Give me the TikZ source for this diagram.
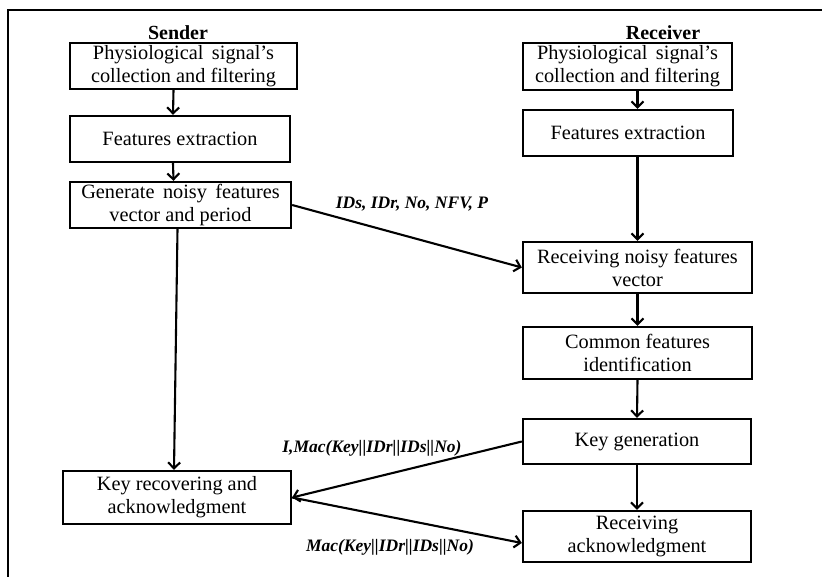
\documentclass[tikz,border=0pt]{standalone}
\usepackage{fontspec}
\setmainfont{Liberation Serif}
\usetikzlibrary{arrows.meta}

\begin{document}
\begin{tikzpicture}[x=1pt,y=-1pt,
  procbox/.style={draw,line width=2.3pt,align=center,inner sep=1pt,
    font=\fontsize{20.3}{23}\selectfont},
  sidetitle/.style={anchor=base,font=\fontsize{20}{22}\selectfont\bfseries},
  msglabel/.style={font=\fontsize{17.5}{20}\selectfont\bfseries\itshape},
  flowarrow/.style={line width=2.1pt,-{Straight Barb[length=6pt,width=12pt,line width=2.1pt]}}]

\useasboundingbox (0,0) rectangle (822,577);

% Frame
\draw[line width=2.3pt] (822,10) -- (8,10) -- (8,577);

% Sender Title
\node[sidetitle] (senderTitle) at (178,40) {Sender};

% Sender Steps
\node[procbox,minimum width=227pt,minimum height=46pt] (sCollect) at (183.5,66)
  {Physiological\, signal's\\collection and filtering};
\node[procbox,minimum width=220pt,minimum height=46pt] (sExtract) at (180,139)
  {Features extraction};
\node[procbox,minimum width=221pt,minimum height=46pt] (sGenerate) at (180.5,205)
  {Generate\, noisy\, features\\vector and period};
\node[procbox,minimum width=228pt,minimum height=53pt] (sRecover) at (177,497.5)
  {Key recovering and\\acknowledgment};

% Receiver Title
\node[sidetitle] (receiverTitle) at (663,40) {Receiver};

% Receiver Steps
\node[procbox,minimum width=209pt,minimum height=47pt] (rCollect) at (627.5,66.5)
  {Physiological\, signal's\\collection and filtering};
\node[procbox,minimum width=210pt,minimum height=46pt] (rExtract) at (628,133)
  {Features extraction};
\node[procbox,minimum width=229pt,minimum height=51pt] (rReceive) at (637.5,267.5)
  {Receiving noisy features\\vector};
\node[procbox,minimum width=229pt,minimum height=52pt] (rCommon) at (637.5,353)
  {Common features\\identification};
\node[procbox,minimum width=228pt,minimum height=45pt] (rKeyGen) at (637,441.5)
  {Key generation};
\node[procbox,minimum width=228pt,minimum height=51pt] (rAck) at (637,536.5)
  {Receiving\\acknowledgment};

% Sender Flow
\draw[flowarrow] ([xshift=-10pt]sCollect.south) -- ([xshift=-7pt]sExtract.north);
\draw[flowarrow] ([xshift=-7pt]sExtract.south) -- ([xshift=-7pt]sGenerate.north);
\draw[flowarrow] ([xshift=-3pt]sGenerate.south) -- ([xshift=-3pt]sRecover.north);

% Receiver Flow
\draw[flowarrow] (rCollect.south -| rReceive.north) -- (rExtract.north -| rReceive.north);
\draw[flowarrow] (rExtract.south -| rReceive.north) -- (rReceive.north);
\draw[flowarrow] (rReceive.south) -- (rCommon.north);
\draw[flowarrow] (rCommon.south) -- (rKeyGen.north);
\draw[flowarrow] (rKeyGen.south) -- (rAck.north);

% Messages
\draw[flowarrow] (sGenerate.east) -- (rReceive.west);
\draw[flowarrow] (rKeyGen.west) -- (sRecover.east);
\draw[flowarrow] (sRecover.east) -- ([yshift=-6.5pt]rAck.west);

% Message Labels
\node[msglabel] (noisyMsg) at (412,204) {IDs, IDr, No, NFV, P};
\node[msglabel] (keyMsg) at (372,448) {I,Mac(Key||IDr||IDs||No)};
\node[msglabel] (ackMsg) at (390,547) {Mac(Key||IDr||IDs||No)};

\end{tikzpicture}
\end{document}
